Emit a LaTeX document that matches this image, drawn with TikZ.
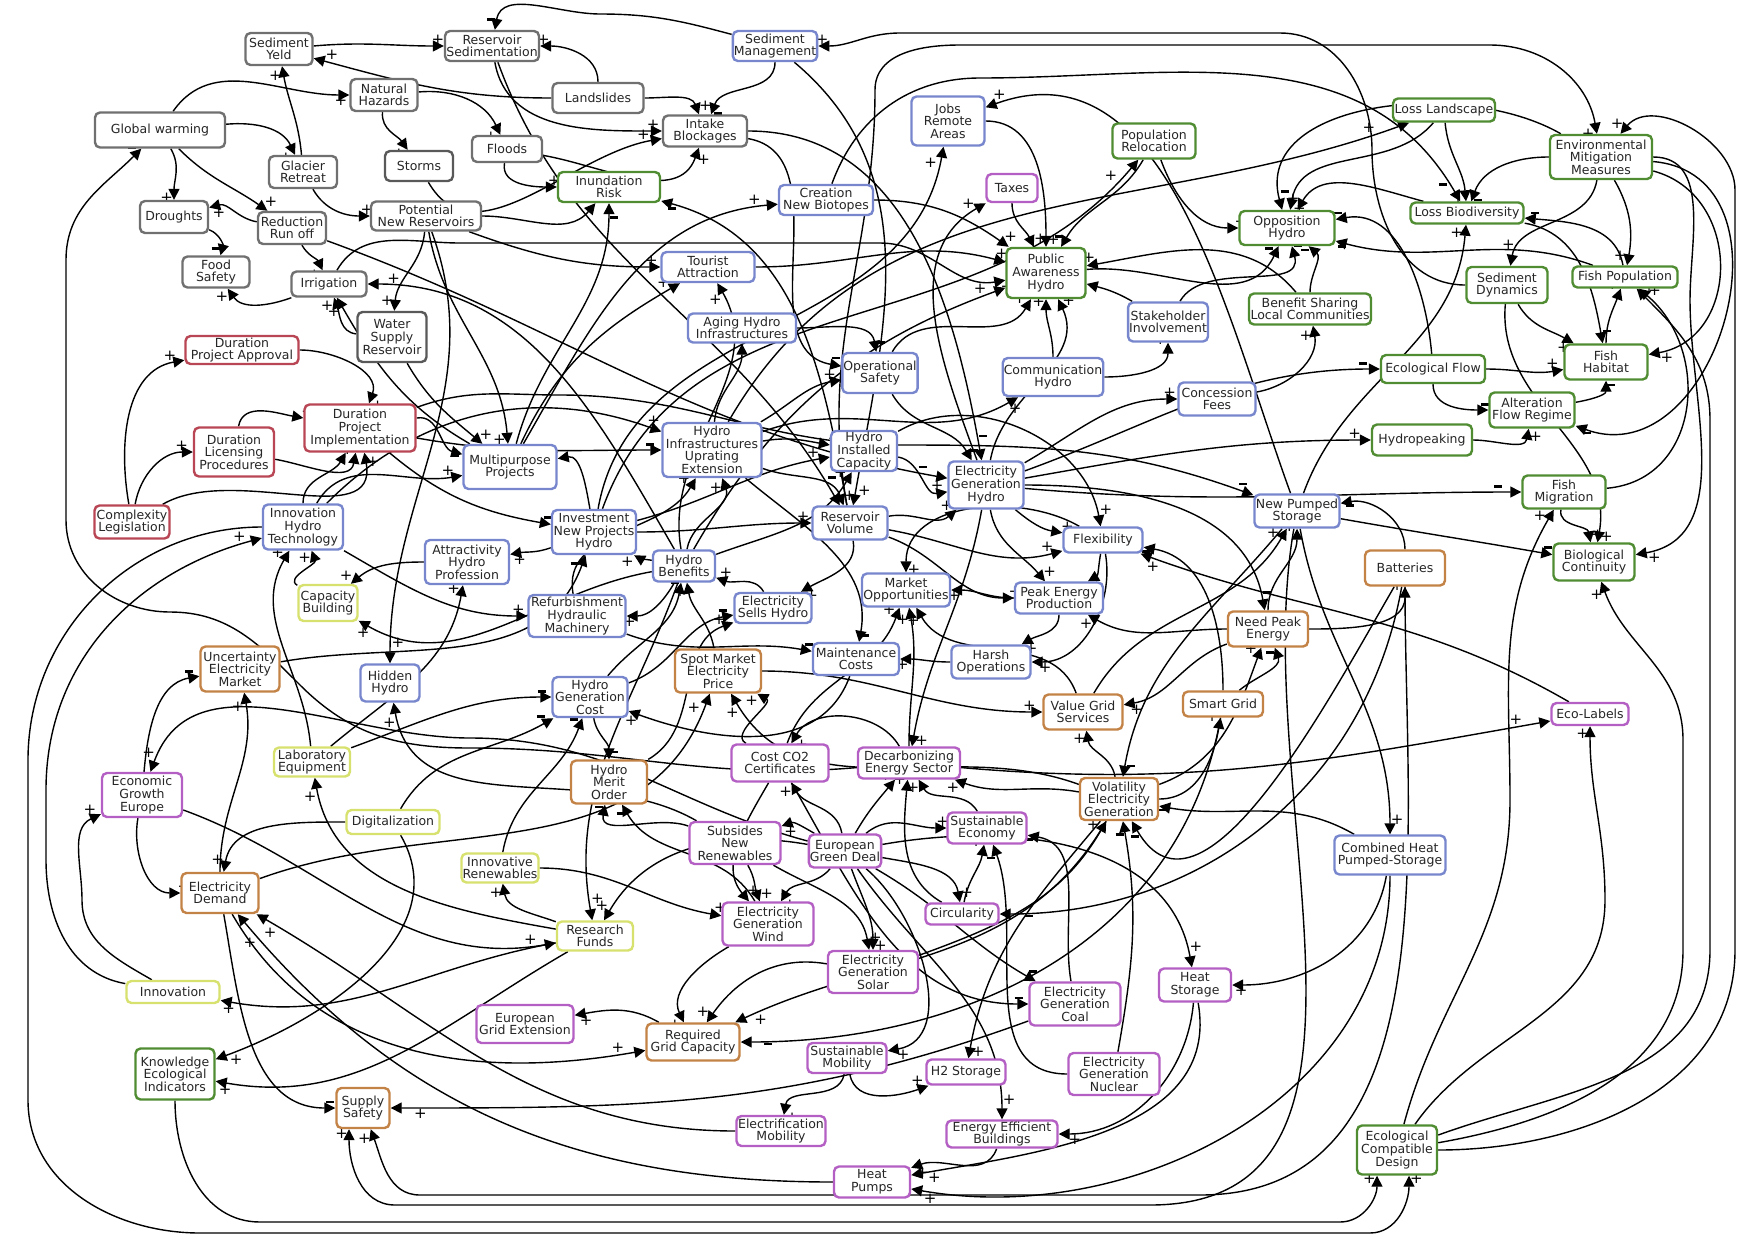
\documentclass[tikz,border=0pt]{standalone}
\usepackage{fontspec}
\setmainfont{DejaVu Sans}
\usetikzlibrary{arrows.meta}
\pgfdeclarelayer{edges}
\pgfsetlayers{edges,main}
\definecolor{cgy}{RGB}{112,112,112}
\definecolor{cbl}{RGB}{120,135,205}
\definecolor{cgn}{RGB}{80,140,50}
\definecolor{crd}{RGB}{185,70,85}
\definecolor{cog}{RGB}{195,130,70}
\definecolor{cpu}{RGB}{180,95,195}
\definecolor{cyl}{RGB}{215,225,110}
\newcommand{\nf}{\fontsize{12.5}{12.6}\selectfont}
\newcommand{\sgf}{\fontsize{15}{15}\selectfont}
\newcommand{\mn}{\rule[3pt]{8pt}{2.6pt}}
\begin{document}
\begin{tikzpicture}[x=1pt,y=1pt,
 box/.style={draw, rounded corners=5pt, line width=2.4pt, fill=white, align=center, inner sep=1pt, font=\nf, text=black!85},
 gy/.style={box,draw=cgy}, bl/.style={box,draw=cbl}, gn/.style={box,draw=cgn},
 rd/.style={box,draw=crd}, og/.style={box,draw=cog}, pu/.style={box,draw=cpu}, yl/.style={box,draw=cyl},
 sz/.style 2 args={minimum width=#1pt,minimum height=#2pt},
 ar/.style={line width=1.4pt, -{Triangle[length=11pt,width=11pt]}},
 pl/.style={font=\sgf, inner sep=0.5pt, pos=0.96, auto}]
\useasboundingbox (0,0) rectangle (1753,-1240);
% ---------------- nodes
\node[gy,sz={130}{35}] (GW) at (160,-130) {Global warming};
\node[gy,sz={67}{32}] (SY) at (279,-49) {Sediment\\Yeld};
\node[gy,sz={67}{32}] (NH) at (384,-95) {Natural\\Hazards};
\node[gy,sz={68}{32}] (GR) at (303,-172) {Glacier\\Retreat};
\node[box,draw=black!65,sz={68}{30}] (ST) at (419,-166) {Storms};
\node[gy,sz={68}{32}] (DR) at (174,-217) {Droughts};
\node[gy,sz={68}{32}] (RR) at (292,-228) {Reduction\\Run off};
\node[gy,sz={110}{29}] (PNR) at (426,-216) {Potential\\New Reservoirs};
\node[gy,sz={67}{31}] (FS) at (216,-272) {Food\\Safety};
\node[gy,sz={75}{25}] (IRR) at (329,-284) {Irrigation};
\node[box,draw=black!65,sz={69}{50}] (WSR) at (392,-337) {Water\\Supply\\Reservoir};
\node[rd,sz={113}{28}] (DPA) at (242,-350) {Duration\\Project Approval};
\node[rd,sz={111}{47}] (DPI) at (360,-428) {Duration\\Project\\Implementation};
\node[rd,sz={80}{49}] (DLP) at (234,-452) {Duration\\Licensing\\Procedures};
\node[rd,sz={75}{33}] (CL) at (132,-522) {Complexity\\Legislation};
\node[bl,sz={80}{45}] (IHT) at (303,-527) {Innovation\\Hydro\\Technology};
\node[bl,sz={84}{44}] (AHP) at (467,-562) {Attractivity\\Hydro\\Profession};
\node[yl,sz={59}{36}] (CB) at (328,-603) {Capacity\\Building};
\node[og,sz={79}{45}] (UEM) at (240,-669) {Uncertainty\\Electricity\\Market};
\node[bl,sz={59}{37}] (HH) at (390,-683) {Hidden\\Hydro};
\node[yl,sz={76}{29}] (LE) at (312,-762) {Laboratory\\Equipment};
\node[pu,sz={80}{44}] (EGE) at (142,-795) {Economic\\Growth\\Europe};
\node[yl,sz={93}{24}] (DIG) at (393,-822) {Digitalization};
\node[og,sz={77}{40}] (ED) at (220,-893) {Electricity\\Demand};
\node[yl,sz={93}{22}] (INN) at (173,-992) {Innovation};
\node[gn,sz={79}{51}] (KEI) at (175,-1074) {Knowledge\\Ecological\\Indicators};
\node[og,sz={53}{40}] (SS) at (363,-1108) {Supply\\Safety};
\node[gy,sz={94}{30}] (RS) at (492,-46) {Reservoir\\Sedimentation};
\node[gy,sz={91}{30}] (LS) at (598,-98) {Landslides};
\node[gy,sz={70}{26}] (FL) at (507,-149) {Floods};
\node[gy,sz={84}{31}] (IB) at (705,-131) {Intake\\Blockages};
\node[gn,sz={102}{30}] (IR) at (609,-187) {Inundation\\Risk};
\node[bl,sz={84}{30}] (SM) at (775,-46) {Sediment\\Management};
\node[bl,sz={94}{30}] (CNB) at (826,-200) {Creation\\New Biotopes};
\node[bl,sz={93}{30}] (TA) at (708,-267) {Tourist\\Attraction};
\node[bl,sz={108}{29}] (AHI) at (742,-328) {Aging Hydro\\Infrastructures};
\node[bl,sz={75}{40}] (OS) at (880,-373) {Operational\\Safety};
\node[bl,sz={73}{49}] (JRA) at (948,-121) {Jobs\\Remote\\Areas};
\node[gn,sz={83}{35}] (PR) at (1154,-141) {Population\\Relocation};
\node[pu,sz={51}{28}] (TX) at (1012,-188) {Taxes};
\node[gn,sz={79}{50}] (PAH) at (1046,-273) {Public\\Awareness\\Hydro};
\node[bl,sz={79}{39}] (SI) at (1168,-322) {Stakeholder\\Involvement};
\node[gn,sz={122}{31}] (BSL) at (1310,-309) {Benefit Sharing\\Local Communities};
\node[bl,sz={100}{38}] (CH) at (1053,-377) {Communication\\Hydro};
\node[bl,sz={77}{33}] (CF) at (1217,-399) {Concession\\Fees};
\node[gn,sz={95}{34}] (OH) at (1287,-228) {Opposition\\Hydro};
\node[gn,sz={102}{23}] (LL) at (1444,-110) {Loss Landscape};
\node[gn,sz={113}{21}] (LB) at (1467,-213) {Loss Biodiversity};
\node[gn,sz={102}{44}] (EMM) at (1601,-157) {Environmental\\Mitigation\\Measures};
\node[gn,sz={81}{36}] (SD) at (1507,-285) {Sediment\\Dynamics};
\node[gn,sz={105}{21}] (FP) at (1625,-277) {Fish Population};
\node[gn,sz={104}{28}] (EF) at (1433,-369) {Ecological Flow};
\node[gn,sz={83}{35}] (FH) at (1606,-362) {Fish\\Habitat};
\node[gn,sz={85}{35}] (AFR) at (1532,-410) {Alteration\\Flow Regime};
\node[gn,sz={100}{31}] (HYP) at (1422,-440) {Hydropeaking};
\node[gn,sz={83}{33}] (FM) at (1564,-492) {Fish\\Migration};
\node[bl,sz={85}{33}] (NPS) at (1297,-511) {New Pumped\\Storage};
\node[og,sz={80}{35}] (BAT) at (1405,-568) {Batteries};
\node[gn,sz={81}{37}] (BC) at (1594,-562) {Biological\\Continuity};
\node[pu,sz={77}{22}] (ECL) at (1590,-714) {Eco-Labels};
\node[bl,sz={111}{39}] (CHP) at (1390,-855) {Combined Heat\\Pumped-Storage};
\node[gn,sz={80}{49}] (ECD) at (1397,-1150) {Ecological\\Compatible\\Design};
\node[bl,sz={93}{44}] (MP) at (510,-467) {Multipurpose\\Projects};
\node[bl,sz={99}{54}] (HIU) at (712,-450) {Hydro\\Infrastructures\\Uprating\\Extension};
\node[bl,sz={66}{40}] (HIC) at (864,-451) {Hydro\\Installed\\Capacity};
\node[bl,sz={84}{44}] (INP) at (594,-532) {Investment\\New Projects\\Hydro};
\node[bl,sz={75}{33}] (RV) at (850,-523) {Reservoir\\Volume};
\node[bl,sz={62}{31}] (HB) at (684,-566) {Hydro\\Benefits};
\node[bl,sz={97}{42}] (RHM) at (577,-616) {Refurbishment\\Hydraulic\\Machinery};
\node[bl,sz={77}{30}] (ESH) at (773,-608) {Electricity\\Sells Hydro};
\node[bl,sz={86}{32}] (MC) at (856,-659) {Maintenance\\Costs};
\node[og,sz={86}{43}] (SMP) at (718,-671) {Spot Market\\Electricity\\Price};
\node[bl,sz={75}{40}] (HGC) at (590,-697) {Hydro\\Generation\\Cost};
\node[og,sz={76}{43}] (HMO) at (609,-782) {Hydro\\Merit\\Order};
\node[pu,sz={97}{37}] (CO2) at (780,-763) {Cost CO2\\Certificates};
\node[pu,sz={102}{31}] (DES) at (909,-763) {Decarbonizing\\Energy Sector};
\node[bl,sz={75}{47}] (EGH) at (986,-485) {Electricity\\Generation\\Hydro};
\node[bl,sz={88}{33}] (MO) at (906,-590) {Market\\Opportunities};
\node[bl,sz={79}{25}] (FLX) at (1103,-540) {Flexibility};
\node[bl,sz={88}{31}] (PEP) at (1059,-598) {Peak Energy\\Production};
\node[bl,sz={79}{33}] (HO) at (991,-662) {Harsh\\Operations};
\node[og,sz={80}{35}] (NPE) at (1268,-629) {Need Peak\\Energy};
\node[og,sz={79}{35}] (VGS) at (1083,-712) {Value Grid\\Services};
\node[og,sz={80}{25}] (SG) at (1223,-704) {Smart Grid};
\node[og,sz={78}{42}] (VEG) at (1119,-799) {Volatility\\Electricity\\Generation};
\node[pu,sz={79}{31}] (SE) at (987,-828) {Sustainable\\Economy};
\node[pu,sz={91}{42}] (SNR) at (735,-843) {Subsides\\New\\Renewables};
\node[pu,sz={70}{33}] (EGD) at (845,-851) {European\\Green Deal};
\node[yl,sz={77}{29}] (IRN) at (500,-868) {Innovative\\Renewables};
\node[yl,sz={76}{29}] (RF) at (595,-936) {Research\\Funds};
\node[pu,sz={91}{43}] (EGW) at (768,-924) {Electricity\\Generation\\Wind};
\node[pu,sz={90}{42}] (EGS) at (873,-972) {Electricity\\Generation\\Solar};
\node[pu,sz={97}{38}] (EGX) at (525,-1024) {European\\Grid Extension};
\node[og,sz={93}{37}] (RGC) at (693,-1042) {Required\\Grid Capacity};
\node[pu,sz={79}{30}] (SMO) at (847,-1058) {Sustainable\\Mobility};
\node[pu,sz={89}{30}] (EMO) at (781,-1131) {Electrification\\Mobility};
\node[pu,sz={76}{31}] (HP) at (872,-1182) {Heat\\Pumps};
\node[pu,sz={73}{21}] (CIR) at (962,-914) {Circularity};
\node[pu,sz={91}{43}] (EGC) at (1075,-1004) {Electricity\\Generation\\Coal};
\node[pu,sz={72}{33}] (HS) at (1195,-985) {Heat\\Storage};
\node[pu,sz={79}{25}] (H2) at (966,-1072) {H2 Storage};
\node[pu,sz={91}{42}] (EGN) at (1114,-1074) {Electricity\\Generation\\Nuclear};
\node[pu,sz={111}{27}] (EEB) at (1002,-1134) {Energy Efficient\\Buildings};
% ---------------- edges
\begin{pgfonlayer}{edges}
\draw[ar] (SY) to[out=5,in=180] node[pl]{+} (RS);
\draw[ar] (LS) to[out=180,in=-15] node[pl,swap]{+} (SY);
\draw[ar] (GR) to[out=95,in=-80] node[pl]{+} (SY);
\draw[ar] (GW) to[out=55,in=180] node[pl,swap]{+} (NH);
\draw[ar] (GW) to[out=5,in=115] node[pl,swap]{+} (GR);
\draw[ar] (GW) to[out=-60,in=90] node[pl,swap]{+} (DR);
\draw[ar] (GW) to[out=-45,in=145] node[pl]{+} (RR);
\draw[ar] (NH) to[out=-95,in=125] node[pl,swap]{+} (ST);
\draw[ar] (NH) to[out=5,in=115] node[pl,swap]{+} (FL);
\draw[ar] (RR) to[out=170,in=15] node[pl]{+} (DR);
\draw[ar] (DR) to[out=-20,in=75] node[pl,swap]{\mn} (FS);
\draw[ar] (IRR) to[out=200,in=-55] node[pl]{+} (FS);
\draw[ar] (RR) to[out=-60,in=115] node[pl,swap]{+} (IRR);
\draw[ar] (WSR) to[out=175,in=-70] node[pl]{+} (IRR);
\draw[ar] (PNR) to[out=-95,in=85] node[pl,swap]{+} (WSR);
\draw[ar] (GR) to[out=-60,in=180] node[pl]{+} (PNR);
\draw[ar] (LS) to[out=90,in=0] node[pl,swap]{+} (RS);
\draw[ar] (SM) to[out=165,in=0] (600,-14) to[out=180,in=80] node[pl,swap]{\mn} (RS);
\draw[ar] (SM) to[out=-90,in=70] node[pl]{\mn} (IB);
\draw[ar] (LS) to[out=0,in=110] node[pl]{+} (IB);
\draw[ar] (RS) to[out=-80,in=180] node[pl]{+} (IB);
\draw[ar] (FL) to[out=-10,in=-110] node[pl,swap]{+} (IB);
\draw[ar] (ST) to[out=-60,in=190] node[pl]{+} (IB);
\draw[ar] (FL) to[out=-100,in=180] node[pl]{+} (IR);
\draw[ar] (PNR) to[out=0,in=-130] node[pl]{\mn} (IR);
\draw[ar] (MP) to[out=75,in=-90] node[pl,swap]{\mn} (IR);
\draw[ar] (RV) to[out=100,in=-15] node[pl]{\mn} (IR);
\draw[ar] (PNR) to[out=-20,in=180] node[pl]{+} (TA);
\draw[ar] (PNR) to[out=-80,in=95] node[pl,swap]{+} (MP);
\draw[ar] (MP) to[out=65,in=-150] node[pl]{+} (TA);
\draw[ar] (MP) to[out=60,in=185] node[pl]{+} (CNB);
\draw[ar] (CNB) to[out=0,in=145] node[pl]{+} (PAH);
\draw[ar] (TA) to[out=0,in=165] node[pl]{+} (PAH);
\draw[ar] (IRR) to[out=60,in=180] (460,-243) -- (880,-243) to[out=0,in=190] node[pl,swap]{+} (PAH);
\draw[ar] (JRA) to[out=0,in=90] node[pl]{+} (PAH);
\draw[ar] (TX) to[out=-90,in=115] node[pl]{+} (PAH);
\draw[ar] (PR) to[out=-120,in=60] node[pl,swap]{\mn} (PAH);
\draw[ar] (PR) to[out=-70,in=180] node[pl]{+} (OH);
\draw[ar] (INP) to[out=70,in=-130] node[pl]{+} (PR);
\draw[ar] (INP) to[out=80,in=-100] node[pl]{+} (JRA);
\draw[ar] (NPS) to[out=110,in=20] node[pl,swap]{+} (JRA);
\draw[ar] (EGH) to[out=110,in=-150] node[pl]{+} (TX);
\draw[ar] (OS) to[out=60,in=-120] node[pl]{+} (PAH);
\draw[ar] (CH) to[out=90,in=-90] node[pl]{+} (PAH);
\draw[ar] (EGH) to[out=80,in=-65] node[pl,swap]{+} (PAH);
\draw[ar] (BSL) to[out=130,in=10] node[pl,swap]{+} (PAH);
\draw[ar] (SI) to[out=150,in=-15] node[pl]{+} (PAH);
\draw[ar] (PAH) to[out=5,in=-115] node[pl]{\mn} (OH);
\draw[ar] (SI) to[out=60,in=-75] node[pl,swap]{\mn} (OH);
\draw[ar] (CH) to[out=0,in=-90] node[pl]{+} (SI);
\draw[ar] (CF) to[out=10,in=-80] node[pl]{+} (BSL);
\draw[ar] (EGH) to[out=30,in=180] node[pl]{+} (CF);
\draw[ar] (HIU) to[out=20,in=-150] node[pl,swap]{+} (CH);
\draw[ar] (EMM) to[out=150,in=105] node[pl]{\mn} (OH);
\draw[ar] (LL) to[out=-130,in=80] node[pl]{+} (OH);
\draw[ar] (LB) to[out=165,in=60] node[pl,swap]{+} (OH);
\draw[ar] (EF) to[out=95,in=10] node[pl,swap]{\mn} (OH);
\draw[ar] (FP) to[out=160,in=-15] node[pl]{\mn} (OH);
\draw[ar] (BSL) to[out=90,in=-40] node[pl]{\mn} (OH);
\draw[ar] (SD) to[out=180,in=-90] (1372,-150) to[out=90,in=0] (1280,-33) -- (900,-33) to[out=180,in=0] node[pl,swap]{+} (SM);
\draw[ar] (RV) to[out=100,in=-90] (875,-90) to[out=90,in=180] (960,-45) -- (1490,-45) to[out=0,in=100] node[pl,swap]{+} (EMM);
\draw[ar] (EMM) to[out=180,in=70] node[pl]{\mn} (LB);
\draw[ar] (LL) to[out=-85,in=95] node[pl,swap]{+} (LB);
\draw[ar] (CNB) to[out=70,in=180] (980,-78) to[out=0,in=120] node[pl,swap]{\mn} (LB);
\draw[ar] (NPS) to[out=70,in=-95] node[pl]{+} (LB);
\draw[ar] (LB) to[out=-10,in=100] node[pl]{\mn} (FH);
\draw[ar] (EMM) to[out=-100,in=80] node[pl,swap,pos=0.88]{+} (SD);
\draw[ar] (EMM) to[out=-60,in=80] node[pl,swap]{+} (FP);
\draw[ar] (EMM) to[out=-15,in=10,looseness=1.3] node[pl]{+} (FH);
\draw[ar] (EMM) to[out=0,in=90] (1690,-300) to[out=-90,in=10] node[pl]{+} (BC);
\draw[ar] (EMM) to[out=-5,in=-20,looseness=1.4] node[pl]{\mn} (AFR);
\draw[ar] (ECD) to[out=0,in=-90] (1735,-950) -- (1735,-190) to[out=90,in=50] node[pl,swap]{+} (EMM);
\draw[ar] (ECD) to[out=10,in=-90] (1683,-950) -- (1683,-740) to[out=90,in=-70] node[pl]{+} (BC);
\draw[ar] (ECD) to[out=20,in=-90] (1710,-950) -- (1710,-420) to[out=90,in=-45] node[pl,swap]{+} (FP);
\draw[ar] (ECD) to[out=75,in=-90] (1510,-800) to[out=90,in=-120] node[pl]{+} (FM);
\draw[ar] (ECD) to[out=55,in=-90] (1605,-900) to[out=90,in=-90] node[pl]{+} (ECL);
\draw[ar] (KEI) to[out=-90,in=180] (260,-1222) -- (1340,-1222) to[out=0,in=-90] node[pl]{+} ([xshift=-20pt]ECD.south);
\draw[ar] (IHT) to[out=180,in=90] (28,-760) -- (28,-1100) to[out=-90,in=180] (200,-1233) -- (1370,-1233) to[out=0,in=-90] node[pl,swap]{+} ([xshift=12pt]ECD.south);
\draw[ar] (SD) to[out=-60,in=150] node[pl,swap]{+} (FH);
\draw[ar] (SD) to[out=-95,in=80] node[pl]{+} (BC);
\draw[ar] (EF) to[out=0,in=190] node[pl]{+} (FH);
\draw[ar] (EF) to[out=-90,in=180] node[pl]{\mn} (AFR);
\draw[ar] (AFR) to[out=10,in=-90] node[pl,swap]{\mn} (FH);
\draw[ar] (FH) to[out=90,in=-110] node[pl]{+} (FP);
\draw[ar] (FP) to[out=100,in=-5] node[pl,swap]{\mn} (LB);
\draw[ar] (HYP) to[out=0,in=-100] node[pl,swap]{+} (AFR);
\draw[ar] (FM) to[out=-100,in=100] node[pl]{+} (BC);
\draw[ar] (FM) to[out=5,in=-40,looseness=1.2] node[pl,swap]{+} (FP);
\draw[ar] (NPS) to[out=-10,in=170] node[pl]{\mn} (BC);
\draw[ar] (EGH) to[out=10,in=180] node[pl]{+} (HYP);
\draw[ar] (EGH) to[out=-5,in=180] node[pl]{\mn} (FM);
\draw[ar] (EGH) to[out=20,in=180] node[pl]{\mn} (EF);
\draw[ar] (EGH) to[out=0,in=100] node[pl]{\mn} (NPE);
\draw[ar] (EGH) to[out=-40,in=170] node[pl]{+} (FLX);
\draw[ar] (EGH) to[out=-80,in=130] node[pl]{+} (PEP);
\draw[ar] (RV) to[out=-20,in=180] node[pl]{+} (PEP);
\draw[ar] (HIC) to[out=30,in=100] node[pl]{+} (FLX);
\draw[ar] (RV) to[out=-10,in=195] node[pl]{+} (FLX);
\draw[ar] (FLX) to[out=-100,in=30] node[pl]{+} (PEP);
\draw[ar] (PEP) to[out=180,in=0] node[pl]{+} (MO);
\draw[ar] (FLX) to[out=150,in=90] node[pl]{+} (MO);
\draw[ar] (FLX) to[out=-80,in=0] node[pl]{+} (HO);
\draw[ar] (PEP) to[out=-90,in=30] node[pl]{+} (HO);
\draw[ar] (NPE) to[out=180,in=-30] node[pl]{+} (PEP);
\draw[ar] (NPE) to[out=200,in=10] node[pl]{+} (VGS);
\draw[ar] (VEG) to[out=100,in=-80] node[pl]{+} (VGS);
\draw[ar] (VEG) to[out=20,in=-110] node[pl]{+} (NPE);
\draw[ar] (VEG) to[out=0,in=-100] node[pl]{+} (SG);
\draw[ar] (SG) to[out=40,in=-70] node[pl]{\mn} (NPE);
\draw[ar] (NPE) to[out=90,in=-90] node[pl]{+} (NPS);
\draw[ar] (NPE) to[out=0,in=-90] node[pl]{+} (BAT);
\draw[ar] (BAT) to[out=90,in=10] node[pl]{\mn} (NPS);
\draw[ar] (SG) to[out=90,in=-10] node[pl]{\mn} (FLX);
\draw[ar] (ECL) to[out=150,in=-20] node[pl]{+} (FLX);
\draw[ar] (VGS) to[out=60,in=-120] node[pl]{+} (NPS);
\draw[ar] (VGS) to[out=110,in=-60] node[pl]{+} (MO);
\draw[ar] (SMP) to[out=0,in=180] node[pl]{+} (VGS);
\draw[ar] (CO2) to[out=150,in=-30] node[pl]{+} (SMP);
\draw[ar] (ED) to[out=20,in=-110] node[pl]{+} (SMP);
\draw[ar] (VEG) to[out=160,in=-60] node[pl]{+} (SMP);
\draw[ar] (DES) to[out=120,in=60] node[pl]{+} (CO2);
\draw[ar] (EGD) to[out=100,in=-60] node[pl]{+} (CO2);
\draw[ar] (CO2) to[out=70,in=-110] node[pl]{+} (MO);
\draw[ar] (DES) to[out=90,in=-80] node[pl]{+} (MO);
\draw[ar] (EGH) to[out=-100,in=80] node[pl]{+} (DES);
\draw[ar] (EGD) to[out=60,in=-130] node[pl]{+} (DES);
\draw[ar] (SE) to[out=120,in=-60] node[pl]{+} (DES);
\draw[ar] (CIR) to[out=150,in=-95] node[pl]{+} (DES);
\draw[ar] (VEG) to[out=170,in=-20] node[pl]{+} (DES);
\draw[ar] (DES) to[out=-5,in=190] node[pl]{+} (ECL);
\draw[ar] (DES) to[out=185,in=0] (470,-748) to[out=180,in=-45] (300,-685) to[out=135,in=0] (170,-612) to[out=180,in=-90] (66,-520) -- (66,-260) to[out=90,in=-135] node[pl]{\mn} (GW);
\draw[ar] (INN) to[out=170,in=-90] (46,-860) -- (46,-790) to[out=90,in=195] node[pl]{+} (IHT);
\draw[ar] (INN) to[out=150,in=-90] (82,-900) to[out=90,in=205] node[pl]{+} (EGE);
\draw[ar] (LE) to[out=95,in=-120] node[pl]{+} (IHT);
\draw[ar] (CB) to[out=150,in=-70] node[pl]{+} (IHT);
\draw[ar] (AHP) to[out=180,in=40] node[pl,swap]{+} (CB);
\draw[ar] (HB) to[out=190,in=-30] node[pl]{+} (CB);
\draw[ar] (IHT) to[out=-30,in=180] node[pl]{+} (RHM);
\draw[ar] (IHT) to[out=60,in=190] node[pl]{+} (MP);
\draw[ar] (DPI) to[out=10,in=165] node[pl,swap]{\mn} (MP);
\draw[ar] (IHT) to[out=90,in=-120] node[pl]{\mn} (DPI);
\draw[ar] (DPA) to[out=0,in=70] node[pl]{+} (DPI);
\draw[ar] (CL) to[out=100,in=190] node[pl]{+} (DPA);
\draw[ar] (CL) to[out=80,in=180] node[pl]{+} (DLP);
\draw[ar] (DLP) to[out=80,in=170] node[pl]{+} (DPI);
\draw[ar] (CL) to[out=30,in=-80] node[pl,swap]{+} (DPI);
\draw[ar] (DLP) to[out=-10,in=-100] node[pl]{+} (DPI);
\draw[ar] (DPI) to[out=-10,in=180] node[pl]{\mn} (HIU);
\draw[ar] (IHT) to[out=45,in=160] node[pl]{+} (HIU);
\draw[ar] (DPI) to[out=-40,in=170] node[pl]{\mn} (INP);
\draw[ar] (UEM) to[out=10,in=-110] node[pl]{\mn} (INP);
\draw[ar] (DPI) to[out=20,in=180] (560,-395) to[out=0,in=180] (900,-445) to[out=0,in=160] node[pl]{\mn} (NPS);
\draw[ar] (INP) to[out=200,in=10] node[pl]{+} (AHP);
\draw[ar] (INP) to[out=100,in=10] node[pl,swap]{+} (MP);
\draw[ar] (INP) to[out=0,in=180] node[pl]{+} (RV);
\draw[ar] (INP) to[out=15,in=190] node[pl]{+} (HIC);
\draw[ar] (HB) to[out=170,in=-30] node[pl]{+} (INP);
\draw[ar] (HB) to[out=80,in=-70] node[pl]{+} (HIU);
\draw[ar] (HB) to[out=20,in=-120] node[pl]{+} (HIC);
\draw[ar] (HB) to[out=-120,in=0] node[pl]{+} (RHM);
\draw[ar] (HB) to[out=60,in=200] node[pl]{+} (PAH);
\draw[ar] (HB) to[out=100,in=-60] node[pl]{+} (TA);
\draw[ar] (HB) to[out=120,in=0] node[pl,swap]{+} (IRR);
\draw[ar] (MP) to[out=150,in=-60] node[pl]{+} (IRR);
\draw[ar] (RHM) to[out=100,in=-120] node[pl]{+} (HIU);
\draw[ar] (ESH) to[out=120,in=-20] node[pl,swap]{+} (HB);
\draw[ar] (RV) to[out=-80,in=30] node[pl]{+} (ESH);
\draw[ar] (HGC) to[out=20,in=190] node[pl]{\mn} (ESH);
\draw[ar] (SMP) to[out=100,in=-80] node[pl]{+} (HB);
\draw[ar] (HGC) to[out=50,in=-100] node[pl]{\mn} (HB);
\draw[ar] (HGC) to[out=-80,in=90] node[pl]{\mn} (HMO);
\draw[ar] (MC) to[out=-110,in=-20] node[pl]{+} (HGC);
\draw[ar] (HIU) to[out=-40,in=80] node[pl]{\mn} (MC);
\draw[ar] (RHM) to[out=-20,in=170] node[pl]{\mn} (MC);
\draw[ar] (HO) to[out=180,in=0] node[pl]{+} (MC);
\draw[ar] (HIU) to[out=85,in=-90] node[pl]{\mn} (AHI);
\draw[ar] (AHI) to[out=0,in=100] node[pl]{\mn} (OS);
\draw[ar] (IB) to[out=-10,in=170] node[pl]{\mn} (OS);
\draw[ar] (RS) to[out=-70,in=120] node[pl]{\mn} (RV);
\draw[ar] (HIU) to[out=30,in=190] node[pl]{+} (OS);
\draw[ar] (HIU) to[out=10,in=170] node[pl]{+} (HIC);
\draw[ar] (HIU) to[out=-20,in=110] node[pl]{+} (RV);
\draw[ar] (HIC) to[out=-10,in=190] node[pl]{+} (EGH);
\draw[ar] (RV) to[out=10,in=-140] node[pl]{+} (EGH);
\draw[ar] (IB) to[out=0,in=100] node[pl]{\mn} (EGH);
\draw[ar] (OS) to[out=-60,in=120] node[pl]{\mn} (EGH);
\draw[ar] (SM) to[out=-40,in=80] node[pl]{+} (RV);
\draw[ar] (RR) to[out=-20,in=170] node[pl]{\mn} (EGH);
\draw[ar] (HIU) to[out=60,in=200] node[pl]{+} (LL);
\draw[ar] (PNR) to[out=-70,in=90] node[pl]{+} (HH);
\draw[ar] (SNR) to[out=150,in=-80] node[pl]{+} (HH);
\draw[ar] (WSR) to[out=-60,in=140] node[pl]{+} (MP);
\draw[ar] (LE) to[out=40,in=-100] node[pl]{+} (AHP);
\draw[ar] (LE) to[out=20,in=180] node[pl]{\mn} (HGC);
\draw[ar] (DIG) to[out=60,in=-150] node[pl]{\mn} (HGC);
\draw[ar] (IRN) to[out=80,in=-110] node[pl]{\mn} (HGC);
\draw[ar] (EGW) to[out=120,in=-60] node[pl]{\mn} (HMO);
\draw[ar] (SNR) to[out=160,in=-100] node[pl]{\mn} (HMO);
\draw[ar] (HMO) to[out=30,in=200] node[pl]{+} (ESH);
\draw[ar] (EGE) to[out=85,in=190] node[pl]{\mn} (UEM);
\draw[ar] (ED) to[out=90,in=-80] node[pl]{+} (UEM);
\draw[ar] (EGD) to[out=165,in=0] (470,-738) to[out=180,in=70] node[pl,swap]{+} (EGE);
\draw[ar] (EGE) to[out=-100,in=180] node[pl]{+} (ED);
\draw[ar] (DIG) to[out=180,in=80] node[pl,swap]{+} (ED);
\draw[ar] (EMO) to[out=180,in=-30] node[pl]{+} (ED);
\draw[ar] (HP) to[out=180,in=-50] node[pl]{+} (ED);
\draw[ar] (ED) to[out=-80,in=180] node[pl]{\mn} (SS);
\draw[ar] (ED) to[out=-60,in=190] node[pl]{+} (RGC);
\draw[ar] (RF) to[out=170,in=-80] node[pl]{+} (LE);
\draw[ar] (RF) to[out=160,in=-80] node[pl]{+} (IRN);
\draw[ar] (EGD) to[out=170,in=60] node[pl,swap]{+} (RF);
\draw[ar] (HB) to[out=-110,in=100] node[pl]{+} (RF);
\draw[ar] (EGE) to[out=-20,in=190] node[pl]{+} (RF);
\draw[ar] (RF) to[out=-170,in=-10] node[pl]{+} (INN);
\draw[ar] (RF) to[out=-150,in=-10] node[pl]{+} (KEI);
\draw[ar] (DIG) to[out=-60,in=20] node[pl]{+} (KEI);
\draw[ar] (SNR) to[out=-60,in=110] node[pl]{+} (EGW);
\draw[ar] (SNR) to[out=-30,in=100] node[pl]{+} (EGS);
\draw[ar] (EGD) to[out=150,in=20] node[pl]{+} (SNR);
\draw[ar] (EGD) to[out=-130,in=60] node[pl]{+} (EGW);
\draw[ar] (EGD) to[out=-70,in=90] node[pl]{+} (EGS);
\draw[ar] (IRN) to[out=0,in=170] node[pl]{+} (EGW);
\draw[ar] (CO2) to[out=-120,in=130] node[pl]{+} (EGW);
\draw[ar] (EGW) to[out=-150,in=115] node[pl,swap]{+} (RGC);
\draw[ar] (EGS) to[out=170,in=55] node[pl,swap]{+} (RGC);
\draw[ar] (VEG) to[out=-120,in=25] node[pl]{+} (RGC);
\draw[ar] (SG) to[out=-100,in=0] node[pl]{\mn} (RGC);
\draw[ar] (RGC) to[out=150,in=10] node[pl]{+} (EGX);
\draw[ar] (SMO) to[out=-80,in=-160] node[pl]{+} (H2);
\draw[ar] (EGD) to[out=-40,in=10] node[pl]{+} (SMO);
\draw[ar] (SMO) to[out=-100,in=80] node[pl]{+} (EMO);
\draw[ar] (VEG) to[out=-130,in=80] node[pl]{+} (H2);
\draw[ar] (EGD) to[out=40,in=180] node[pl]{+} (SE);
\draw[ar] (EGD) to[out=-10,in=100] node[pl]{+} (CIR);
\draw[ar] (CIR) to[out=80,in=-100] node[pl]{+} (SE);
\draw[ar] (BAT) to[out=-100,in=0] node[pl]{\mn} (CIR);
\draw[ar] (EGC) to[out=100,in=-10] node[pl]{\mn} (SE);
\draw[ar] (EGN) to[out=180,in=-70] node[pl]{\mn} (SE);
\draw[ar] (EGD) to[out=-30,in=150] node[pl]{\mn} (EGC);
\draw[ar] (CO2) to[out=-60,in=180] node[pl]{\mn} (EGC);
\draw[ar] (EGD) to[out=10,in=100] node[pl]{+} (HS);
\draw[ar] (EGD) to[out=-55,in=90] node[pl]{+} (EEB);
\draw[ar] (HS) to[out=-95,in=0] node[pl]{+} (EEB);
\draw[ar] (HS) to[out=-80,in=10] node[pl]{+} (HP);
\draw[ar] (EEB) to[out=-110,in=20] node[pl]{+} (HP);
\draw[ar] (CHP) to[out=-100,in=0] node[pl]{+} (HS);
\draw[ar] (CHP) to[out=-90,in=-10] node[pl]{+} (HP);
\draw[ar] (NPS) to[out=-80,in=90] node[pl]{+} (CHP);
\draw[ar] (BAT) to[out=-90,in=0] (1200,-1195) -- (420,-1195) to[out=180,in=-70] node[pl]{+} (SS);
\draw[ar] (NPS) to[out=-100,in=0] (1150,-1205) -- (395,-1205) to[out=180,in=-90] node[pl]{+} ([xshift=-14pt]SS.south);
\draw[ar] (EGC) to[out=-160,in=0] node[pl]{+} (SS);
\draw[ar] (CHP) to[out=150,in=-10] node[pl]{\mn} (VEG);
\draw[ar] (BAT) to[out=-120,in=-60] node[pl]{\mn} (VEG);
\draw[ar] (NPS) to[out=-130,in=80] node[pl]{\mn} (VEG);
\draw[ar] (EGN) to[out=80,in=-80] node[pl]{\mn} (VEG);
\draw[ar] (EGS) to[out=20,in=-120] node[pl]{+} (VEG);
\end{pgfonlayer}
\end{tikzpicture}
\end{document}
